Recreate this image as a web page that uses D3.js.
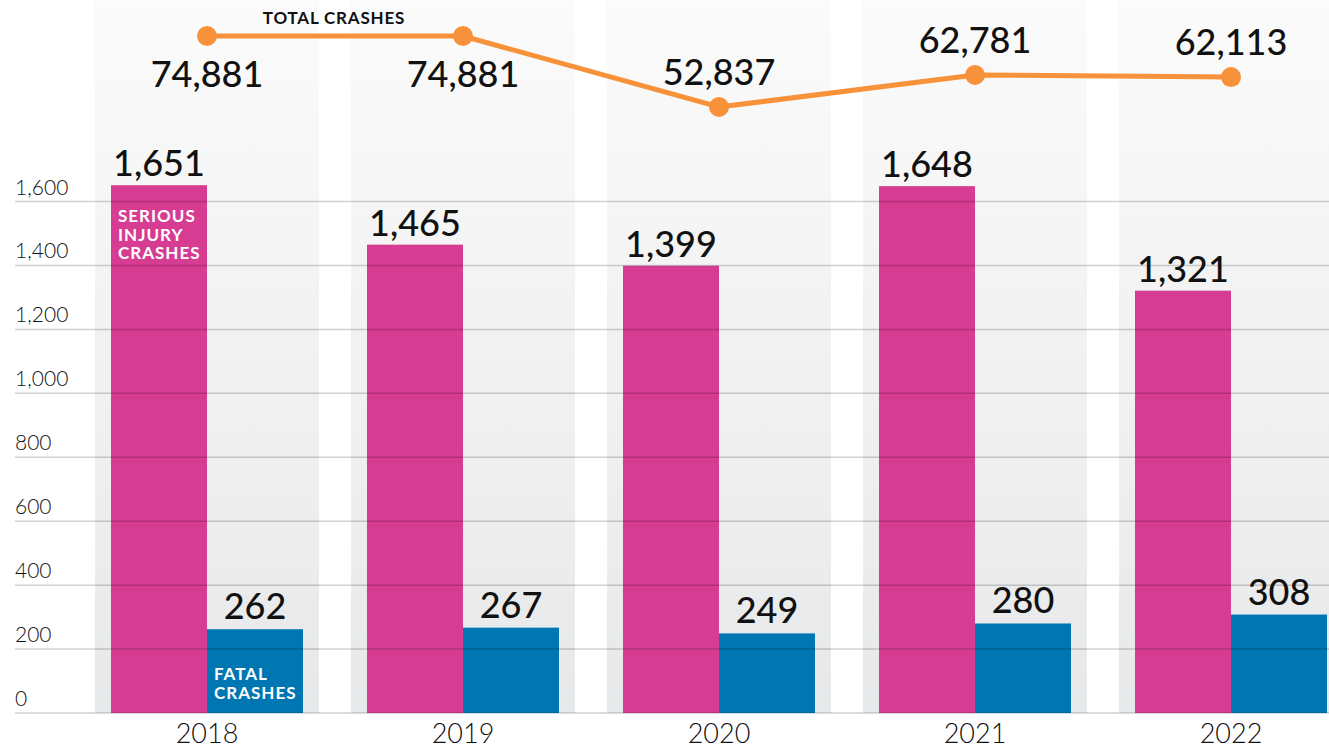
<!DOCTYPE html>
<html>
<head>
<meta charset="utf-8">
<script src="https://cdn.jsdelivr.net/npm/d3@7"></script>
<style>
  body { margin: 0; background: #fff; }
  svg { display: block; font-family: Lato, "Noto Sans", sans-serif; }
</style>
</head>
<body>
<div id="canvas"></div>
<script>
"use strict"

// DATA
let years = ["2018", "2019", "2020", "2021", "2022"];
let seriousCrashes = [1651, 1465, 1399, 1648, 1321];
let fatalCrashes = [262, 267, 249, 280, 308];
let totalCrashes = [74881, 74881, 52837, 62781, 62113];
let yTicks = [0, 200, 400, 600, 800, 1000, 1200, 1400, 1600];

// drawing config
let svgWidth = 1329;
let svgHeight = 748;

let pink = "#d63c92";
let blue = "#0077b3";
let orange = "#f7923a";

let svg = d3.select("#canvas")
  .append("svg")
  .attr("width", svgWidth)
  .attr("height", svgHeight);

// gradient for the column backgrounds
let grad = svg.append("defs").append("linearGradient")
  .attr("id", "colGrad")
  .attr("x1", 0).attr("y1", 0)
  .attr("x2", 0).attr("y2", 1);
grad.append("stop").attr("offset", "0%").attr("stop-color", "#fbfbfb");
grad.append("stop").attr("offset", "100%").attr("stop-color", "#e7e8e9");

// SCALES
let xScale = d3.scaleBand()
  .domain(years)
  .range([79, 1359])
  .paddingInner(0.125)
  .paddingOuter(0.0625);

let subScale = d3.scaleBand()
  .domain(["serious", "fatal"])
  .range([16, xScale.bandwidth() - 16]);

let yScale = d3.scaleLinear()
  .domain([0, 1600])
  .range([713, 201.5]);

let totalScale = d3.scaleLinear()
  .domain([d3.min(totalCrashes), d3.max(totalCrashes)])
  .range([107, 36]);

let fmt = d3.format(",");

// column backgrounds
svg.selectAll("rect.col")
  .data(years)
  .join("rect")
  .attr("class", "col")
  .attr("x", d => xScale(d))
  .attr("y", 0)
  .attr("width", xScale.bandwidth())
  .attr("height", yScale(0))
  .attr("fill", "url(#colGrad)");

// bars
let rows = years.map((y, i) => ({ year: y, serious: seriousCrashes[i], fatal: fatalCrashes[i] }));

svg.selectAll("rect.serious")
  .data(rows)
  .join("rect")
  .attr("class", "serious")
  .attr("x", d => xScale(d.year) + subScale("serious"))
  .attr("y", d => yScale(d.serious))
  .attr("width", subScale.bandwidth())
  .attr("height", d => yScale(0) - yScale(d.serious))
  .attr("fill", pink);

svg.selectAll("rect.fatal")
  .data(rows)
  .join("rect")
  .attr("class", "fatal")
  .attr("x", d => xScale(d.year) + subScale("fatal"))
  .attr("y", d => yScale(d.fatal))
  .attr("width", subScale.bandwidth())
  .attr("height", d => yScale(0) - yScale(d.fatal))
  .attr("fill", blue);

// gridlines (drawn over bars, semi transparent)
svg.selectAll("line.grid")
  .data(yTicks)
  .join("line")
  .attr("class", "grid")
  .attr("x1", 15)
  .attr("x2", svgWidth)
  .attr("y1", d => yScale(d))
  .attr("y2", d => yScale(d))
  .attr("stroke", "rgba(0,0,0,0.18)")
  .attr("stroke-width", 1.5);

// y tick labels
svg.selectAll("text.ytick")
  .data(yTicks)
  .join("text")
  .attr("class", "ytick")
  .attr("x", 15)
  .attr("y", d => yScale(d) - 7)
  .style("font-size", "21px")
  .style("font-weight", 300)
  .attr("fill", "#111")
  .text(d => fmt(d));

// year labels
svg.selectAll("text.year")
  .data(years)
  .join("text")
  .attr("class", "year")
  .attr("x", d => xScale(d) + xScale.bandwidth() / 2)
  .attr("y", 743)
  .attr("text-anchor", "middle")
  .style("font-size", "27px")
  .style("font-weight", 300)
  .attr("fill", "#111")
  .text(d => d);

// bar value labels
svg.selectAll("text.sLabel")
  .data(rows)
  .join("text")
  .attr("class", "sLabel")
  .attr("x", d => xScale(d.year) + subScale("serious") + subScale.bandwidth() / 2)
  .attr("y", d => yScale(d.serious) - 9)
  .attr("text-anchor", "middle")
  .style("font-size", "36px")
  .style("font-weight", 500)
  .attr("fill", "#111")
  .text(d => fmt(d.serious));

svg.selectAll("text.fLabel")
  .data(rows)
  .join("text")
  .attr("class", "fLabel")
  .attr("x", d => xScale(d.year) + subScale("fatal") + subScale.bandwidth() / 2)
  .attr("y", d => yScale(d.fatal) - 10)
  .attr("text-anchor", "middle")
  .style("font-size", "36px")
  .style("font-weight", 500)
  .attr("fill", "#111")
  .text(d => fmt(d.fatal));

// in-bar labels for the first year
let x0 = xScale(years[0]);
let inSerious = svg.append("text")
  .attr("fill", "#fff")
  .style("font-size", "17px")
  .style("font-weight", 700)
  .style("letter-spacing", "1px");
["SERIOUS", "INJURY", "CRASHES"].forEach((t, i) => {
  inSerious.append("tspan")
    .attr("x", x0 + subScale("serious") + 7)
    .attr("y", yScale(seriousCrashes[0]) + 37 + i * 18.5)
    .text(t);
});

let inFatal = svg.append("text")
  .attr("fill", "#fff")
  .style("font-size", "17px")
  .style("font-weight", 700)
  .style("letter-spacing", "1px");
["FATAL", "CRASHES"].forEach((t, i) => {
  inFatal.append("tspan")
    .attr("x", x0 + subScale("fatal") + 7)
    .attr("y", 680 + i * 18.5)
    .text(t);
});

// TOTAL CRASHES line
let linePts = years.map((y, i) => ({ year: y, total: totalCrashes[i] }));

let line = d3.line()
  .x(d => xScale(d.year) + xScale.bandwidth() / 2)
  .y(d => totalScale(d.total));

svg.append("path")
  .datum(linePts)
  .attr("d", line)
  .attr("fill", "none")
  .attr("stroke", orange)
  .attr("stroke-width", 5);

svg.selectAll("circle.dot")
  .data(linePts)
  .join("circle")
  .attr("class", "dot")
  .attr("cx", d => xScale(d.year) + xScale.bandwidth() / 2)
  .attr("cy", d => totalScale(d.total))
  .attr("r", 10)
  .attr("fill", orange);

let maxTotal = d3.max(totalCrashes);
svg.selectAll("text.tLabel")
  .data(linePts)
  .join("text")
  .attr("class", "tLabel")
  .attr("x", d => xScale(d.year) + xScale.bandwidth() / 2)
  .attr("y", d => d.total === maxTotal ? totalScale(d.total) + 51 : totalScale(d.total) - 22)
  .attr("text-anchor", "middle")
  .style("font-size", "36px")
  .style("font-weight", 500)
  .attr("fill", "#111")
  .text(d => fmt(d.total));

svg.append("text")
  .attr("x", 334)
  .attr("y", 24)
  .attr("text-anchor", "middle")
  .style("font-size", "17px")
  .style("font-weight", 700)
  .style("letter-spacing", "0.8px")
  .attr("fill", "#111")
  .text("TOTAL CRASHES");
</script>
</body>
</html>
